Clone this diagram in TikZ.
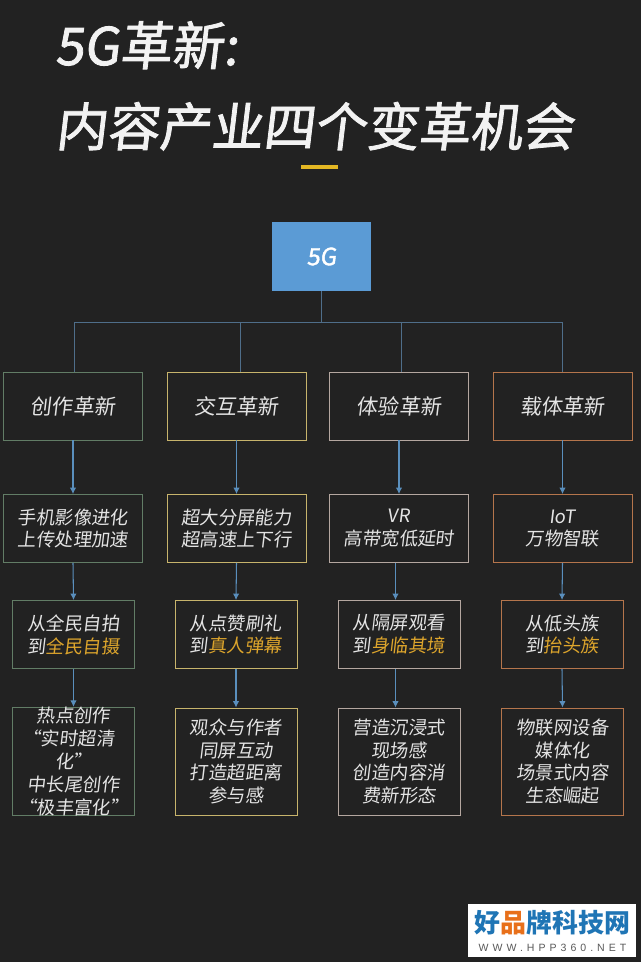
\documentclass[tikz,border=0pt]{standalone}
\usepackage{fontspec}
\setmainfont[FakeSlant=0.12]{Noto Sans CJK SC}
\newfontfamily\titlefont[FakeSlant=0.12,FakeBold=1.6]{Noto Sans CJK SC}
\newfontfamily\logofont{Noto Sans CJK SC}
\newfontfamily\urlfont[LetterSpace=38]{Liberation Sans}
\usetikzlibrary{arrows.meta}
\definecolor{bgdark}{HTML}{222222}
\definecolor{boxblue}{HTML}{5B9BD5}
\definecolor{linkblue}{HTML}{5A8FBD}
\definecolor{busblue}{HTML}{4F6E8A}
\definecolor{greenedge}{HTML}{627D66}
\definecolor{yellowedge}{HTML}{C8B46C}
\definecolor{paleedge}{HTML}{B5A7A0}
\definecolor{orangeedge}{HTML}{B5754C}
\definecolor{hilite}{HTML}{DDA52C}
\definecolor{bodytext}{HTML}{E4E4E4}
\definecolor{logoblue}{HTML}{1F75B5}
\definecolor{logoorange}{HTML}{E8701A}
\tikzset{
  cellbox/.style={draw,line width=1pt,inner sep=0pt,text=bodytext,align=center,
    font=\fontsize{21}{26}\selectfont},
  headbox/.style={cellbox,minimum width=5.56cm,minimum height=2.72cm,font=\fontsize{24}{28}\selectfont},
  techbox/.style={cellbox,minimum width=5.56cm,minimum height=2.72cm},
  movebox/.style={cellbox,minimum width=4.88cm,minimum height=2.72cm},
  gainbox/.style={cellbox,minimum width=4.88cm,minimum height=4.28cm},
  linkline/.style={-{Latex[length=2.6mm,width=2.6mm]},linkblue,line width=1.2pt},
  busline/.style={busblue,line width=1pt},
  titletext/.style={anchor=base west,inner sep=0pt,text=white!95!black,
    font=\titlefont\fontsize{59}{61}\selectfont}
}
\newcommand{\hl}[1]{\textcolor{hilite}{#1}}
\begin{document}
\begin{tikzpicture}[x=0.04cm,y=-0.04cm]
    \fill [bgdark] (0,0) rectangle (641,962);
    \useasboundingbox (0,0) rectangle (641,962);
    % heading
    \node [titletext] (line1) at (55,65) {5G革新:};
    \node [titletext] (line2) at (55,146) {内容产业四个变革机会};
    \node [fill=hilite!80!yellow,minimum width=1.48cm,minimum height=0.18cm,inner sep=0pt] (bar) at (319,167) {};
    % root
    \node [fill=boxblue,minimum width=3.96cm,minimum height=2.76cm,inner sep=0pt,text=white,
        font=\titlefont\fontsize{27}{30}\selectfont] (root) at (321.5,256.5) {5G};
    \coordinate (busm) at (321.5,322);
    \coordinate (busa) at (74,322);
    \coordinate (busb) at (240,322);
    \coordinate (busc) at (401,322);
    \coordinate (busd) at (562,322);
    % column 1
    \node [headbox,draw=greenedge] (heada) at (73,406) {创作革新};
    \node [techbox,draw=greenedge] (techa) at (73,528.5) {手机影像进化\\上传处理加速};
    \node [movebox,draw=greenedge] (movea) at (73.5,634.5) {从全民自拍\\到\hl{全民自摄}};
    \node [gainbox,draw=greenedge] (gaina) at (73.5,761.5) {热点创作\\\hspace*{-11pt}“实时超清\\化”\hspace*{-9pt}\\中长尾创作\\“极丰富化”};
    % column 2
    \node [headbox,draw=yellowedge] (headb) at (236.5,406) {交互革新};
    \node [techbox,draw=yellowedge] (techb) at (236.5,528.5) {超大分屏能力\\超高速上下行};
    \node [movebox,draw=yellowedge] (moveb) at (236,634.5) {从点赞刷礼\\到\hl{真人弹幕}};
    \node [gainbox,draw=yellowedge] (gainb) at (236,761.5) {观众与作者\\同屏互动\\打造超距离\\参与感};
    % column 3
    \node [headbox,draw=paleedge] (headc) at (399,406) {体验革新};
    \node [techbox,draw=paleedge] (techc) at (399,528.5) {VR\\高带宽低延时};
    \node [movebox,draw=paleedge] (movec) at (399,634.5) {从隔屏观看\\到\hl{身临其境}};
    \node [gainbox,draw=paleedge] (gainc) at (399,761.5) {营造沉浸式\\现场感\\创造内容消\\费新形态};
    % column 4
    \node [headbox,draw=orangeedge] (headd) at (562.5,406) {载体革新};
    \node [techbox,draw=orangeedge] (techd) at (562.5,528.5) {IoT\\万物智联};
    \node [movebox,draw=orangeedge] (moved) at (562,634.5) {从低头族\\到\hl{抬头族}};
    \node [gainbox,draw=orangeedge] (gaind) at (562.5,761.5) {物联网设备\\媒体化\\场景式内容\\生态崛起};
    % bus
    \draw [busline] (root.south) -- (busm);
    \draw [busline] (busa) -- (busd);
    \draw [busline] (busa) -- (heada.north -| busa);
    \draw [busline] (busb) -- (headb.north -| busb);
    \draw [busline] (busc) -- (headc.north -| busc);
    \draw [busline] (busd) -- (headd.north -| busd);
    % arrows
    \draw [linkline] (heada.south) -- (techa.north);
    \draw [linkline] (techa.south) -- (movea.north);
    \draw [linkline] (movea.south) -- (gaina.north);
    \draw [linkline] (headb.south) -- (techb.north);
    \draw [linkline] (techb.south) -- (moveb.north);
    \draw [linkline] (moveb.south) -- (gainb.north);
    \draw [linkline] (headc.south) -- (techc.north);
    \draw [linkline] ([xshift=-4]techc.south) -- ([xshift=-4]techc.south |- movec.north);
    \draw [linkline] ([xshift=-4]movec.south) -- ([xshift=-4]movec.south |- gainc.north);
    \draw [linkline] (headd.south) -- (techd.north);
    \draw [linkline] (techd.south) -- (moved.north);
    \draw [linkline] (moved.south) -- (gaind.north);
    % logo
    \node [fill=white,minimum width=6.72cm,minimum height=2.12cm,inner sep=0pt] (logo) at (552,930.5) {};
    \node [inner sep=0pt,text=logoblue,font=\logofont\bfseries\fontsize{29.5}{32}\selectfont] (logotext) at (552.5,923)
        {好\textcolor{logoorange}{品}牌科技网};
    \node [inner sep=0pt,text=black!65,font=\urlfont\fontsize{12}{13}\selectfont] (logourl) at (552.5,948)
        {WWW.HPP360.NET};
\end{tikzpicture}
\end{document}
